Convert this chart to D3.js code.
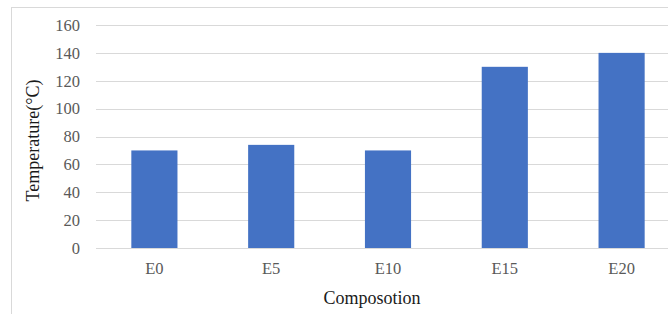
<!DOCTYPE html>
<html>
<head>
<meta charset="utf-8">
<script src="https://cdn.jsdelivr.net/npm/d3@7"></script>
<style>
  body { margin: 0; background: #fff; }
  text { font-family: "Liberation Serif", "Times New Roman", Times, serif; }
</style>
</head>
<body>
<div id="chart"></div>
<script>
// chart data
var categories = ["E0", "E5", "E10", "E15", "E20"];
var temperatures = [70, 74, 70, 130, 140];
var yTicks = [0, 20, 40, 60, 80, 100, 120, 140, 160];

var width = 668, height = 314;
var margin = {top: 25, right: -12, bottom: 66, left: 96};
var serif = '"Liberation Serif", "Times New Roman", Times, serif';

var svg = d3.select("#chart").append("svg")
    .attr("width", width)
    .attr("height", height);

// outer chart frame (cropped at right and bottom)
svg.append("rect")
    .attr("x", 11.5)
    .attr("y", 7.5)
    .attr("width", 700)
    .attr("height", 400)
    .attr("fill", "#fff")
    .attr("stroke", "#d9d9d9");

var x = d3.scaleBand()
    .domain(categories)
    .range([margin.left, width - margin.right])
    .paddingInner(0.605)
    .paddingOuter(0.3025);

var y = d3.scaleLinear()
    .domain([0, 160])
    .range([height - margin.bottom, margin.top]);

// gridlines
svg.append("g")
    .selectAll("line")
    .data(yTicks)
    .enter()
    .append("line")
    .attr("x1", margin.left)
    .attr("x2", width - margin.right)
    .attr("y1", d => Math.round(y(d)) + 0.5)
    .attr("y2", d => Math.round(y(d)) + 0.5)
    .attr("stroke", "#d9d9d9")
    .attr("stroke-width", 1);

// y axis labels
var yAxis = svg.append("g")
    .attr("transform", "translate(" + margin.left + ",0)")
    .call(d3.axisLeft(y).tickValues(yTicks).tickSize(0).tickPadding(16));
yAxis.attr("font-family", null);
yAxis.select(".domain").remove();
yAxis.selectAll("text")
    .style("font-family", serif)
    .style("font-size", "16.5px")
    .attr("fill", "#595959");

// bars
svg.append("g")
    .selectAll("rect")
    .data(temperatures)
    .enter()
    .append("rect")
    .attr("x", (d, i) => x(categories[i]))
    .attr("width", x.bandwidth())
    .attr("y", d => y(d))
    .attr("height", d => y(0) - y(d))
    .attr("fill", "#4472c4");

// x axis
var xAxis = svg.append("g")
    .attr("transform", "translate(0," + y(0) + ")")
    .call(d3.axisBottom(x).tickSize(0).tickPadding(14));
xAxis.attr("font-family", null);
xAxis.select(".domain").remove();
xAxis.selectAll("text")
    .style("font-family", serif)
    .style("font-size", "16.5px")
    .attr("fill", "#595959");

// axis titles
svg.append("text")
    .attr("x", 372)
    .attr("y", 304)
    .attr("text-anchor", "middle")
    .style("font-family", serif)
    .style("font-size", "18px")
    .attr("fill", "#1a1a1a")
    .text("Composotion");

svg.append("text")
    .attr("transform", "translate(39," + ((margin.top + height - margin.bottom) / 2 + 4) + ") rotate(-90)")
    .attr("text-anchor", "middle")
    .style("font-family", serif)
    .style("font-size", "18px")
    .attr("fill", "#1a1a1a")
    .text("Temperature(°C)");
</script>
</body>
</html>
